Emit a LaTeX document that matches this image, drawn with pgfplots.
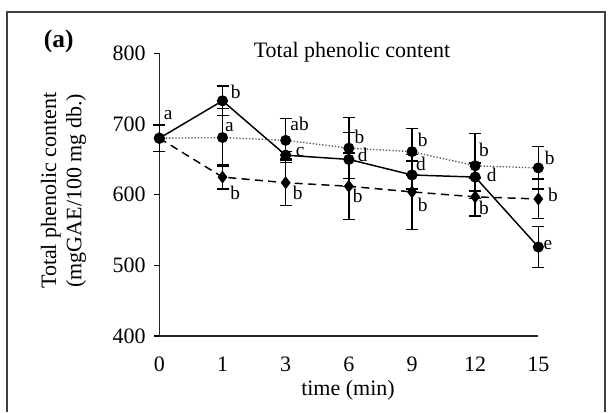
\documentclass[border=0pt]{standalone}
\usepackage{pgfplots}
\pgfplotsset{compat=1.18}
\usepackage{pgfplotstable}
\usepackage{fontspec}
\setmainfont{Liberation Serif}

\pgfplotstableread{
x y e
0 680 19
1 733 21
2 656 5
3 650 38
4 628 20
5 625 20
6 526 29
}\solid
\pgfplotstableread{
x y e
0 680 19
1 681 41
2 677 31
3 666 43
4 661 33
5 641 46
6 638 30
}\dotted
\pgfplotstableread{
x y e
0 680 19
1 625 17
2 617 32
3 612 47
4 604 53
5 597 27
6 594 28
}\dashedt

\begin{document}
\begin{tikzpicture}[x=1pt,y=1pt]
\path[use as bounding box] (0,0) rectangle (459.75,309);
\draw[line width=1.1pt, black!75] (5.25,0) -- (5.25,300) -- (453.75,300) -- (453.75,0);
\node[font=\fontsize{19}{22}\selectfont\bfseries] at (44,278) {(a)};
\node[font=\fontsize{16.5}{19}\selectfont] at (264,270) {Total phenolic content};
\node[font=\fontsize{16.5}{19}\selectfont, rotate=90, align=center] at (47.6,166) {Total phenolic content\\(mgGAE/100 mg db.)};
\node[font=\fontsize{16.5}{19}\selectfont, inner sep=0pt] at (261,16.5) {time (min)};
\begin{axis}[at={(119.5pt,57pt)}, anchor=south west, scale only axis,
  width=284.25pt, height=211.9pt,
  xmin=0, xmax=6, ymin=400, ymax=800, clip=false,
  axis x line*=bottom, axis y line*=left,
  axis line style={-, line width=0.8pt, black!85},
  xtick={0,...,6}, xticklabels={0,1,3,6,9,12,15},
  ytick={400,500,...,800},
  x tick style={draw=none},
  y tick style={line width=0.8pt, black},
  tick align=outside, major tick length=3.75pt,
  /pgf/number format/assume math mode=true,
  ticklabel style={font=\fontsize{16.5}{19}\selectfont},
  xticklabel style={inner sep=0pt, yshift=-11.5pt},
  yticklabel style={xshift=-3pt},
  error bars/y dir=both, error bars/y explicit,
  error bars/error bar style={line width=1.1pt, black, solid},
  error bars/error mark=-,
  error bars/error mark options={rotate=90, mark size=4.5pt, line width=1.1pt, black, solid},
]
\addplot[black, line width=1.1pt, mark=*, mark size=3.6pt, mark options={solid}]
  table[x=x, y=y, y error=e] {\solid};
\addplot[black!65, line width=1pt, dash pattern=on 1pt off 1.4pt, mark=*, mark size=3.6pt, mark options={solid, black}]
  table[x=x, y=y, y error=e] {\dotted};
\addplot[black, line width=1.1pt, dash pattern=on 6pt off 4pt, mark=diamond*, mark size=4pt, mark options={solid}]
  table[x=x, y=y, y error=e] {\dashedt};
\begin{scope}[every node/.style={font=\fontsize{14.5}{16}\selectfont, inner sep=0pt}]
\node at (axis cs:0.14,713) {a};
\node at (axis cs:1.21,746) {b};
\node at (axis cs:1.11,696) {a};
\node at (axis cs:1.20,603) {b};
\node at (axis cs:2.22,701) {ab};
\node at (axis cs:2.23,661) {c};
\node at (axis cs:2.19,602) {b};
\node at (axis cs:3.17,682) {b};
\node at (axis cs:3.22,656) {d};
\node at (axis cs:3.14,598) {b};
\node at (axis cs:4.17,677) {b};
\node at (axis cs:4.14,644) {d};
\node at (axis cs:4.17,585) {b};
\node at (axis cs:5.14,663) {b};
\node at (axis cs:5.26,628) {d};
\node at (axis cs:5.14,581) {b};
\node at (axis cs:6.18,652) {b};
\node at (axis cs:6.23,600) {b};
\node at (axis cs:6.15,529) {e};
\end{scope}
\end{axis}
\end{tikzpicture}
\end{document}
